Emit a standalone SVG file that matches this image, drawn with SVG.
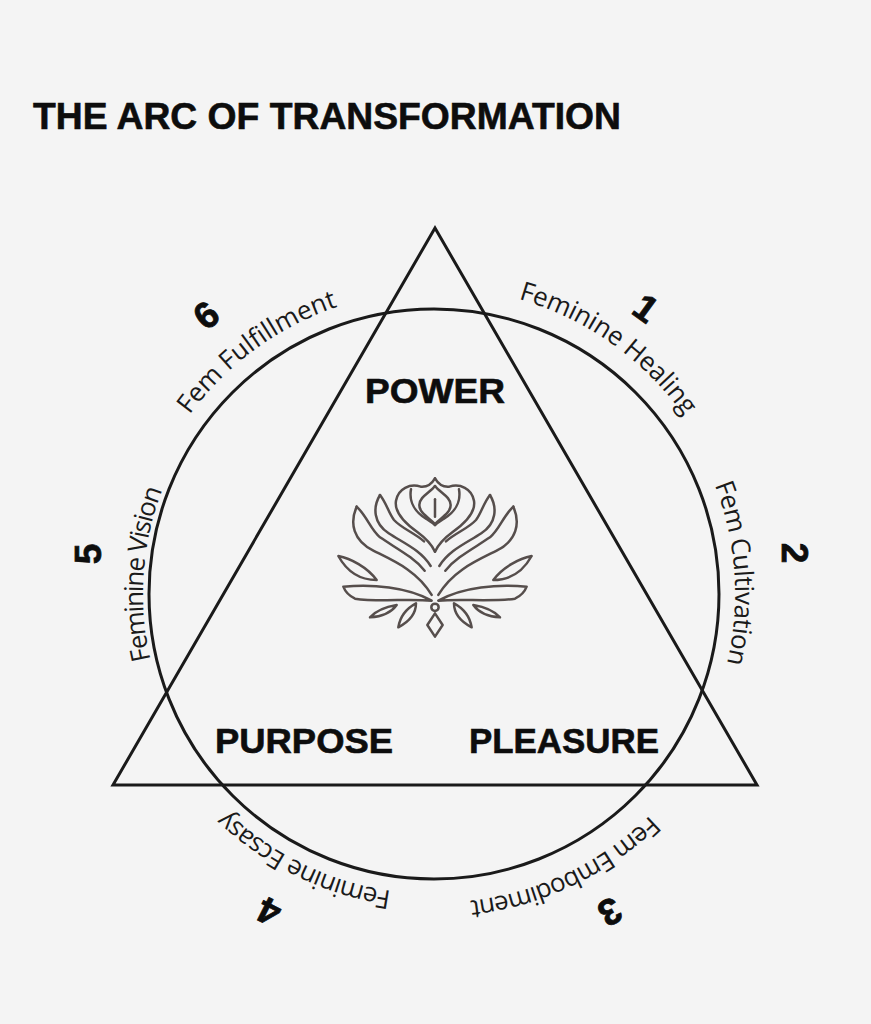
<svg xmlns="http://www.w3.org/2000/svg" width="871" height="1024" viewBox="0 0 871 1024">
  <style>
    .bold { font-family: "Liberation Sans", Arial, sans-serif; font-weight: bold; fill: #0d0d0d; stroke: #0d0d0d; stroke-width: 0.6; }
    .arc { font-family: "Open Sans", "Liberation Sans", sans-serif; font-size: 26px; fill: #1a1a1a; text-anchor: middle; }
    .num { font-family: "Liberation Sans", Arial, sans-serif; font-weight: bold; font-size: 37px; fill: #0d0d0d; text-anchor: middle; stroke: #0d0d0d; stroke-width: 0.8; }
    .line { fill: none; stroke: #1a1a1a; stroke-width: 3; }
    .lotus path, .lotus circle { fill: none; stroke: #564e4c; stroke-width: 7.5; stroke-linejoin: round; stroke-linecap: round; }
  </style>
  <defs>
    <path id="ring307" d="M434,287 A307,307 0 1,1 434,901 A307,307 0 1,1 434,287"/>
    <path id="ring301" d="M434,293 A301,301 0 1,1 434,895 A301,301 0 1,1 434,293"/>
    <path id="ring309" d="M434,285 A309,309 0 1,1 434,903 A309,309 0 1,1 434,285"/>
    <path id="ring300" d="M434,294 A300,300 0 1,1 434,894 A300,300 0 1,1 434,294"/>
    <path id="ring291" d="M434,303 A291,291 0 1,1 434,885 A291,291 0 1,1 434,303"/>
    <path id="ring303" d="M434,291 A303,303 0 1,1 434,897 A303,303 0 1,1 434,291"/>
  </defs>
  <rect width="871" height="1024" fill="#f4f4f4"/>

  <g id="title">
    <text class="bold" x="33" y="129" font-size="37" textLength="588" lengthAdjust="spacingAndGlyphs">THE ARC OF TRANSFORMATION</text>
  </g>

  <g id="connectors">
    <circle class="line" cx="434" cy="594" r="285" stroke-width="3.5"/>
    <polygon class="line" points="435,228 113,785 757,785"/>
  </g>

  <g id="arc-labels">
    <text class="arc"><textPath href="#ring307" startOffset="189" textLength="207" lengthAdjust="spacing">Feminine Healing</textPath></text>
    <text class="arc"><textPath href="#ring301" startOffset="452" textLength="182" lengthAdjust="spacing">Fem Cultivation</textPath></text>
    <text class="arc"><textPath href="#ring309" startOffset="833" textLength="203" lengthAdjust="spacing">Fem Embodiment</textPath></text>
    <text class="arc"><textPath href="#ring300" startOffset="1078" textLength="186" lengthAdjust="spacing">Feminine Ecsasy</textPath></text>
    <text class="arc"><textPath href="#ring291" startOffset="1391" textLength="173" lengthAdjust="spacing">Feminine Vision</textPath></text>
    <text class="arc"><textPath href="#ring303" startOffset="1712" textLength="186" lengthAdjust="spacing">Fem Fulfillment</textPath></text>
  </g>

  <g id="numbers">
    <text class="num" transform="translate(646,308) rotate(36)" x="0" y="13">1</text>
    <text class="num" transform="translate(795,553) rotate(90)" x="0" y="13">2</text>
    <text class="num" transform="translate(610,912) rotate(151)" x="0" y="13">3</text>
    <text class="num" transform="translate(269,912) rotate(207)" x="0" y="13">4</text>
    <text class="num" transform="translate(88,554) rotate(-90)" x="0" y="13">5</text>
    <text class="num" transform="translate(206,315) rotate(-39)" x="0" y="13">6</text>
  </g>

  <g id="node-power">
    <text class="bold" x="365" y="403" font-size="35" textLength="140" lengthAdjust="spacingAndGlyphs">POWER</text>
  </g>
  <g id="node-purpose">
    <text class="bold" x="215" y="753" font-size="35" textLength="178" lengthAdjust="spacingAndGlyphs">PURPOSE</text>
  </g>
  <g id="node-pleasure">
    <text class="bold" x="469" y="753" font-size="35" textLength="190" lengthAdjust="spacingAndGlyphs">PLEASURE</text>
  </g>

  <g id="lotus" class="lotus" transform="translate(330,470) scale(0.3333)">
    <g id="lotus-half">
      <path d="M315,25 C305,42 292,52 272,50 C240,40 205,55 198,92 C192,128 228,162 262,186 C288,205 306,225 315,245"/>
      <path d="M243,58 C236,98 258,128 288,146 C302,155 310,160 315,165"/>
      <path d="M315,48 C300,68 268,80 268,105 C268,130 300,145 315,162"/>
      <path d="M150,75 C128,112 130,160 176,190 C222,220 272,240 302,288"/>
      <path d="M150,75 C170,100 176,130 192,150 C216,176 252,188 282,214"/>
      <path d="M80,110 C58,160 70,212 130,242 C190,272 262,302 305,375"/>
      <path d="M80,110 C112,140 120,176 150,202 C200,236 252,262 284,302"/>
      <path d="M25,258 C62,265 112,292 140,330 C100,330 55,312 25,258 Z"/>
      <path d="M40,350 C125,342 232,350 305,392 C240,386 135,396 75,386 C58,378 46,366 40,350 Z"/>
      <path d="M120,442 C140,420 170,410 200,405 C185,426 155,440 120,442 Z"/>
      <path d="M205,472 C210,440 230,415 258,400 C258,432 236,456 205,472 Z"/>
    </g>
    <use href="#lotus-half" transform="translate(630,0) scale(-1,1)"/>
    <path d="M315,88 L315,140"/>
    <circle cx="315" cy="412" r="11"/>
    <path d="M315,430 L292,465 L315,500 L338,465 Z"/>
  </g>
</svg>
